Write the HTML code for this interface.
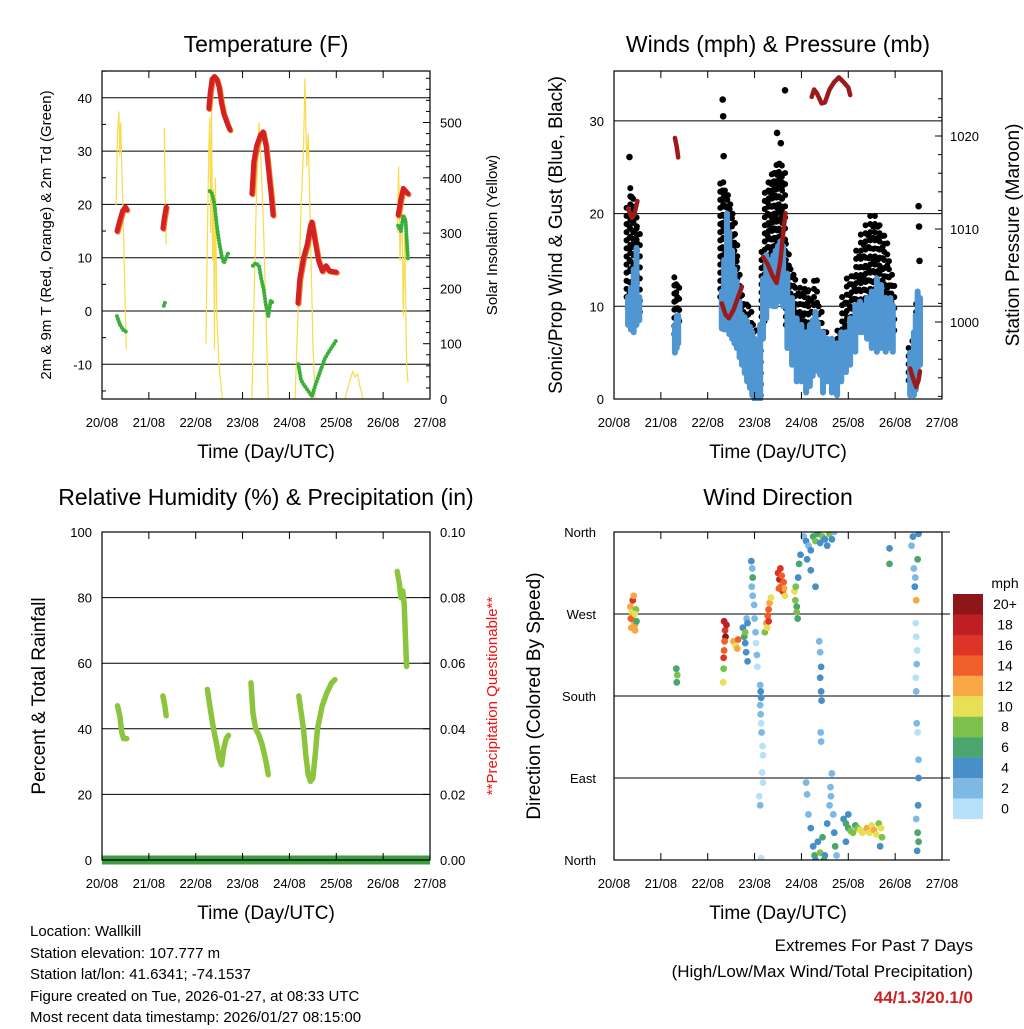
<!DOCTYPE html>
<html><head><meta charset="utf-8"><style>
html,body{margin:0;padding:0;background:#fff}
svg{display:block;font-family:"Liberation Sans",Arial,sans-serif}
</style></head><body>
<svg id="s" width="1024" height="1024" viewBox="0 0 1024 1024">
<rect width="1024" height="1024" fill="#fff"/>
<g id="g"></g>
</svg>
<script>
// ---------- Temperature panel data ----------
const tRedT=[[0.32,0.38,0.44,0.5,0.53],[1.30,1.33,1.37],[2.28,2.31,2.35,2.4,2.45,2.5,2.55,2.6,2.68,2.73],[3.2,3.24,3.3,3.38,3.44,3.5,3.56,3.62,3.65],[4.18,4.22,4.3,4.38,4.45,4.48,4.55,4.62,4.7,4.78,4.85,5.0],[6.32,6.38,6.43,6.48,6.53]];
const tRedV=[[15,17,18.8,19.5,19],[15.5,17.5,19.5],[38,41,43.5,44,43.5,42,39,37,35,34],[22,28,31,33,33.6,31,26,21,18],[1.5,6,10,12.5,16,16.7,13,9.5,7.5,8.5,7.5,7.3],[18,21,23,22.5,22]];
const tGrnT=[[0.32,0.38,0.45,0.53],[1.32,1.36],[2.3,2.35,2.4,2.45,2.5,2.55,2.6,2.65,2.7],[3.22,3.28,3.35,3.4,3.45,3.5,3.55,3.6,3.65],[4.19,4.25,4.32,4.4,4.48,4.55,4.65,4.75,4.85,5.0],[6.32,6.38,6.43,6.48,6.53]];
const tGrnV=[[-1,-2.5,-3.5,-4],[1,2],[22.5,22,20,16,13,10.5,9,10,11],[8.5,9,8.5,6,4,1,-1,2,1.5],[-10,-13,-14,-15,-16,-14,-11.5,-9,-7.5,-5.5],[16,15,18,17,9.5]];
const solT=[[0.3,0.33,0.36,0.38,0.4,0.43,0.46,0.5,0.52],[1.33,1.35,1.37],[2.22,2.25,2.28,2.3,2.32,2.34,2.36,2.38,2.4,2.42,2.45,2.5,2.57],[3.2,3.25,3.3,3.35,3.4,3.45,3.5,3.55],[4.12,4.2,4.25,4.3,4.33,4.37,4.4,4.45,4.5,4.55],[5.18,5.28,5.35,5.4,5.45,5.5,5.57],[6.3,6.33,6.36,6.4,6.43,6.46,6.5,6.53]];
const solV=[[350,480,520,440,500,400,300,150,90],[490,350,280],[100,300,450,510,300,520,250,380,90,400,150,60,0],[0,200,380,500,420,300,150,0],[0,200,350,450,580,420,480,300,100,0],[0,30,50,40,45,25,0],[300,420,250,350,150,300,60,30]];
const tempTicks=[-10,0,10,20,30,40];
const solTicks=[0,100,200,300,400,500];
const dayLabels=["20/08","21/08","22/08","23/08","24/08","25/08","26/08","27/08"];
// ---------- Winds panel data ----------
const blueT=[0.30,0.36,0.42,0.48,0.54,1.30,1.34,1.37,2.30,2.35,2.41,2.46,2.52,2.57,2.62,2.68,2.73,2.79,2.84,2.90,2.95,3.00,3.05,3.12,3.18,3.25,3.33,3.40,3.45,3.50,3.55,3.61,3.70,3.80,3.90,4.00,4.10,4.18,4.24,4.30,4.35,4.40,4.46,4.55,4.65,4.76,4.85,4.95,5.04,5.15,5.25,5.31,5.40,5.50,5.61,5.70,5.80,5.90,5.95,6.32,6.40,6.44,6.48,6.53];
const blueLo=[8,7.5,7.2,8,8.5,5,5.5,6,7.6,7.5,7.5,7,6.5,6,5.5,4.5,3.7,2.8,1.9,1.2,0.4,0,0,0,6.5,8.7,10.1,10,10,10.5,10.9,10,5.5,3.7,1.9,1.9,0.7,1.4,2.5,3.7,3,2.6,0.7,1.9,0.7,0.4,1.9,2.9,3.7,5.1,7.2,7.2,6.5,5.5,5.1,5.5,5.1,5.5,5.1,0.4,0.4,1,1.9,3.7];
const blueHi=[11,12,14,16.3,11,8,9,9,11.6,15,20,18,16,14,12.7,10.5,9.1,8.8,8.4,7.8,7.2,6.5,5.5,8,13,15.5,15,15.5,16,16.5,17,16.5,13.5,10.9,8.7,8,7.2,8,8.5,9.4,8.2,7.2,7.2,6.5,6.5,6,7.2,7.2,8.7,10.1,10.5,10.1,10.9,11.6,13,12.3,10.9,10.9,10.1,5,7.2,9,11.6,10.9];
const gustT=[0.30,0.38,0.45,0.52,1.32,1.36,2.30,2.35,2.40,2.45,2.50,2.55,2.60,2.65,2.70,2.80,2.90,3.00,3.10,3.18,3.25,3.33,3.40,3.45,3.50,3.55,3.62,3.70,3.80,3.90,4.00,4.10,4.18,4.30,4.40,4.50,4.60,4.70,4.80,4.90,5.00,5.10,5.20,5.30,5.40,5.50,5.60,5.70,5.80,5.90,5.95,6.32,6.40,6.48];
const gustLo=[11,14,12,9,7,8,11,12,12,11,10,9,9,7,6,5,3,1,0,8,10,12,12,13,13,14,12,8,7,5,5,4,3,4,3,2,2,2,3,4,6,8,9,9,10,11,11,10,8,7,7,2,1,5];
const gustHi=[21,23,21,19,13.5,13,24,23,23,22,21,20,18,15,12,11,10,8,6,16,23,24,25,25,26,26,25,17,14,13,12,13,12,13.5,10,8,6.5,6,8,11,13,14,16,18,19,20,20,19,18,15,13,6,7,11];
const gustOutT=[0.33,0.37,2.32,2.33,2.34,3.48,3.56,3.65,6.50,6.51,6.52];
const gustOutV=[26.1,21.8,32.3,30.5,26.2,28.7,27.6,33.3,20.8,18.6,14.9];
const presT=[[0.30,0.38,0.43,0.50],[1.30,1.34,1.37],[2.30,2.38,2.45,2.55,2.65,2.73],[3.18,3.28,3.38,3.47,3.55,3.62,3.66],[4.22,4.27,4.33,4.43,4.5,4.6,4.7,4.8,4.9,5.0,5.04],[6.32,6.38,6.45,6.50,6.53]];
const presV=[[1012.2,1011.2,1011.5,1013],[1019.8,1018.8,1017.7],[1002,1000.8,1000.4,1001.3,1002.7,1003.8],[1007,1006.2,1005,1004.2,1006.5,1010,1011.7],[1024.2,1025,1024.6,1023.5,1023.6,1025,1025.8,1026.3,1025.8,1025.2,1024.4],[995,994,993,993.8,994.7]];
const windTicks=[0,10,20,30];
const presTicks=[1000,1010,1020];
// ---------- RH panel data ----------
const rhT=[[0.33,0.38,0.42,0.46,0.53],[1.30,1.34,1.37],[2.25,2.3,2.38,2.45,2.5,2.55,2.6,2.65,2.7],[3.18,3.22,3.28,3.35,3.42,3.5,3.55],[4.2,4.25,4.3,4.35,4.4,4.45,4.5,4.55,4.6,4.7,4.8,4.9,4.97],[6.3,6.35,6.38,6.42,6.45,6.47,6.5]];
const rhV=[[47,44,39,37,37],[50,47,44],[52,47,40,35,31,29,34,37,38],[54,45,40,38,35,30,26],[50,45,40,32,26,24,25,32,40,47,51,54,55],[88,84,80,82,78,70,59]];
const precipT=[0,7];
const precipV=[0,0];
const rhTicks=[0,20,40,60,80,100];
const prTicks=["0.00","0.02","0.04","0.06","0.08","0.10"];
// ---------- Wind direction data ----------
const dirT=[0.35,0.38,0.40,0.42,0.45,0.47,0.4,0.42,0.36,0.44,0.48,0.37,0.45,1.33,1.35,1.34,
2.35,2.37,2.38,2.40,2.36,2.35,2.34,2.34,2.33,2.55,2.6,2.63,2.65,2.75,2.78,2.8,2.82,2.85,2.83,2.85,2.8,
2.93,2.95,2.96,2.94,2.96,2.99,3.0,3.02,3.03,3.05,3.06,3.12,3.13,3.14,3.12,3.13,3.14,3.15,3.17,3.18,3.16,3.18,3.1,3.12,3.14,
3.22,3.25,3.28,3.3,3.32,3.35,3.27,3.3,3.5,3.53,3.56,3.6,3.62,3.65,3.55,3.58,3.63,3.52,
3.85,3.87,3.9,3.92,3.88,3.93,3.95,3.9,3.98,
4.05,4.1,4.15,4.2,4.25,4.3,4.35,4.4,4.45,4.5,4.55,4.6,4.65,4.12,4.2,4.3,4.7,
4.38,4.4,4.42,4.4,4.42,4.43,4.41,4.42,
4.1,4.12,4.15,4.2,4.25,4.28,4.35,4.4,4.45,4.5,4.55,4.6,4.62,4.65,4.63,4.68,4.7,4.72,4.75,4.3,4.48,
4.9,4.95,5.0,5.05,5.1,5.15,5.2,5.25,5.3,5.35,5.4,5.45,5.5,5.55,5.6,5.65,5.7,5.72,5.68,5.0,4.95,
5.88,5.88,
6.35,6.38,6.4,6.42,6.45,6.48,6.5,6.43,6.44,6.45,6.47,6.46,6.44,6.45,6.46,6.48,6.5,6.5,6.49,6.45,6.48,6.5,6.47];
const dirDeg=[278,272,268,262,258,275,285,290,265,270,262,255,252,210,203,195,
262,252,245,258,240,230,222,210,195,240,235,232,242,255,245,238,228,218,265,260,250,
328,320,310,300,290,280,265,250,238,225,212,192,185,178,170,160,150,140,125,115,96,85,70,60,2,
250,260,268,275,282,288,255,262,315,308,300,295,305,290,320,312,298,298,
295,285,278,265,300,310,325,272,335,
355,350,345,340,355,350,358,348,355,352,345,358,352,330,318,300,360,
240,228,212,200,185,175,140,130,
85,72,50,35,15,5,20,8,25,5,40,60,80,95,70,50,30,15,5,0,0,
45,40,35,32,30,38,35,33,30,32,35,30,38,33,28,40,35,25,15,50,20,
342,325,
345,355,320,300,285,330,358,310,260,245,230,215,200,185,150,140,110,90,60,45,30,20,10];
const dirSpd=[12,10,13,12,12,9,16,13,14,11,7,12,12,6,8,6,
18,16,20,18,14,14,16,8,10,12,10,12,14,4,6,4,4,4,2,4,8,
4,2,6,2,2,2,2,2,0,2,0,2,4,4,2,2,0,2,0,0,0,0,0,2,0,
8,12,14,14,12,10,10,16,16,18,14,16,14,10,16,14,12,14,
10,8,6,6,8,4,6,8,4,
2,4,2,4,6,8,6,4,8,4,4,8,4,4,4,4,2,
2,2,4,4,4,4,2,2,
2,2,2,4,4,6,4,8,6,4,4,2,2,2,2,2,4,6,2,4,6,
4,6,6,8,8,6,8,10,10,10,12,10,10,12,10,8,10,8,4,4,4,
4,6,
2,4,2,4,12,6,4,2,0,0,0,2,0,2,2,0,2,4,4,2,6,6,4];
const cbLabels=["20+","18","16","14","12","10","8","6","4","2","0"];
const cbColors=["#8e1518","#be1e24","#dd3427","#f05f2a","#f7a843","#e7df55","#7cc14b","#4aa56f","#478fc8","#7db9e4","#b6e1f8"];
const dirTicks=[[0,"North"],[90,"East"],[180,"South"],[270,"West"],[360,"North"]];

const NS="http://www.w3.org/2000/svg";
const G=document.getElementById('g');
function mk(tag,attrs,parent){const e=document.createElementNS(NS,tag);for(const k in attrs)e.setAttribute(k,attrs[k]);(parent||G).appendChild(e);return e;}
function txt(x,y,s,size,anchor,parent,extra){const e=mk('text',Object.assign({x:x,y:y,'font-size':size,'text-anchor':anchor||'middle',fill:'#000'},extra||{}),parent);e.textContent=s;return e;}
function grp(name){const e=mk('g',{});return e;}

function xAxis(g,x0,x1,y0,y1){
  const xs=t=>x0+t*(x1-x0)/7;
  for(let i=0;i<8;i++){
    const x=xs(i);
    mk('line',{x1:x,y1:y1,x2:x,y2:y1-7,stroke:'#000','stroke-width':1},g);
    mk('line',{x1:x,y1:y0,x2:x,y2:y0+7,stroke:'#000','stroke-width':1},g);
    const l=txt(x,y1+28,dayLabels[i],13,'middle',g);
    
    
  }
}
function box(g,x0,y0,x1,y1){
  const r=mk('rect',{x:x0,y:y0,width:x1-x0,height:y1-y0,fill:'none',stroke:'#000','stroke-width':1.2},g);
  
  
}
function poly(g,pts,attrs){return mk('polyline',Object.assign({points:pts.map(p=>p[0].toFixed(1)+','+p[1].toFixed(1)).join(' '),fill:'none'},attrs),g);}

// ===== Panel 1: Temperature =====
(function(){
  const x0=102,x1=430,y0=71,y1=399;
  const xs=t=>x0+t*(x1-x0)/7;
  const yT=v=>311-v*5.33;
  const yS=s=>399-s*0.553;
  const g=grp('temperature-panel');
  const t=txt(266,52,'Temperature (F)',23,'middle',g);
  tempTicks.forEach(v=>{const y=yT(v);mk('line',{x1:x0,y1:y,x2:x1,y2:y,stroke:'#000','stroke-width':1},g);
    const l=txt(92,y+5,String(v),13,'end',g);});
  solTicks.forEach(v=>{const y=yS(v);mk('line',{x1:x1,y1:y,x2:x1-7,y2:y,stroke:'#000'},g);
    const l=txt(440,y+5,String(v),13,'start',g);});
  for(let v=20;v<600;v+=20){if(v%100){const y=yS(v);if(y>y0)mk('line',{x1:x1,y1:y,x2:x1-4,y2:y,stroke:'#000'},g);}}
  for(let v=-15;v<=45;v+=10){const y=yT(v);if(y>y0&&y<y1)mk('line',{x1:x0,y1:y,x2:x0+4,y2:y,stroke:'#000'},g);}
  const clip=mk('clipPath',{id:'c1'},g);mk('rect',{x:x0,y:y0,width:x1-x0,height:y1-y0},clip);
  const d=mk('g',{'clip-path':'url(#c1)'},g);
  solT.forEach((ts,i)=>{const p=poly(d,ts.map((tt,j)=>[xs(tt),yS(solV[i][j])]),{stroke:'#f8dc4a','stroke-width':1.2});
    });
  tGrnT.forEach((ts,i)=>{const p=poly(d,ts.map((tt,j)=>[xs(tt),yT(tGrnV[i][j])]),{stroke:'#3cae3c','stroke-width':4,'stroke-linecap':'round','stroke-dasharray':'0 3'});
    });
  tRedT.forEach((ts,i)=>{const pts=ts.map((tt,j)=>[xs(tt),yT(tRedV[i][j])]);
    const o=poly(d,pts.map(p=>[p[0]+1,p[1]+1]),{stroke:'#f07a22','stroke-width':5,'stroke-linecap':'round','stroke-linejoin':'round'});
    
    const p=poly(d,pts,{stroke:'#d42222','stroke-width':5,'stroke-linecap':'round','stroke-linejoin':'round'});
    });
  xAxis(g,x0,x1,y0,y1);box(g,x0,y0,x1,y1);
  const xl=txt(266,458,'Time (Day/UTC)',19,'middle',g);
  const yl=txt(0,0,'2m & 9m T (Red, Orange) & 2m Td (Green)',15,'middle',g,{transform:'translate(51,235) rotate(-90)'});
  const yr=txt(0,0,'Solar Insolation (Yellow)',15,'middle',g,{transform:'translate(497,235) rotate(-90)'});
})();

// ===== Panel 2: Winds =====
(function(){
  const x0=614,x1=942,y0=71,y1=399;
  const xs=t=>x0+t*(x1-x0)/7;
  const yW=v=>399-v*9.27;
  const yP=p=>322-(p-1000)*9.3;
  const g=grp('winds-panel');
  const t=txt(778,52,'Winds (mph) & Pressure (mb)',23,'middle',g);
  windTicks.forEach(v=>{const y=yW(v);if(v>0)mk('line',{x1:x0,y1:y,x2:x1,y2:y,stroke:'#000'},g);
    const l=txt(604,y+5,String(v),13,'end',g);});
  presTicks.forEach(v=>{const y=yP(v);mk('line',{x1:x1,y1:y,x2:x1-7,y2:y,stroke:'#000'},g);
    const l=txt(950,y+5,String(v),13,'start',g);});
  for(let v=992;v<1026;v+=2){if(v%10){const y=yP(v);mk('line',{x1:x1,y1:y,x2:x1-4,y2:y,stroke:'#000'},g);}}
  const clip=mk('clipPath',{id:'c2'},g);mk('rect',{x:x0,y:y0-2,width:x1-x0,height:y1-y0+4},clip);
  const d=mk('g',{'clip-path':'url(#c2)'},g);
  gustT.forEach((tt,i)=>{
    const l=mk('line',{x1:xs(tt)-1.5,y1:yW(gustLo[i]),x2:xs(tt)-1.5,y2:yW(gustHi[i]),stroke:'#000','stroke-width':6,'stroke-linecap':'round','stroke-dasharray':'0.1 8'},d);
    
    const l2=mk('line',{x1:xs(tt)+1.5,y1:yW(gustLo[i]+0.4),x2:xs(tt)+1.5,y2:yW(gustHi[i]-0.6),stroke:'#000','stroke-width':6,'stroke-linecap':'round','stroke-dasharray':'0.1 11'},d);
    });
  gustOutT.forEach((tt,i)=>{const c=mk('circle',{cx:xs(tt),cy:yW(gustOutV[i]),r:3.3,fill:'#000'},d);
    });
  blueT.forEach((tt,i)=>{const l=mk('line',{x1:xs(tt),y1:yW(blueLo[i]),x2:xs(tt),y2:yW(blueHi[i]),stroke:'#4f96d2','stroke-width':6,'stroke-linecap':'round'},d);
    });
  presT.forEach((ts,i)=>{const p=poly(d,ts.map((tt,j)=>[xs(tt),yP(presV[i][j])]),{stroke:'#9b1b1b','stroke-width':4.5,'stroke-linecap':'round','stroke-linejoin':'round'});
    });
  xAxis(g,x0,x1,y0,y1);box(g,x0,y0,x1,y1);
  const xl=txt(778,458,'Time (Day/UTC)',19,'middle',g);
  const yl=txt(0,0,'Sonic/Prop Wind & Gust (Blue, Black)',19,'middle',g,{transform:'translate(562,235) rotate(-90)'});
  const yr=txt(0,0,'Station Pressure (Maroon)',19,'middle',g,{transform:'translate(1019,235) rotate(-90)'});
})();

// ===== Panel 3: RH =====
(function(){
  const x0=102,x1=430,y0=532,y1=860;
  const xs=t=>x0+t*(x1-x0)/7;
  const yR=v=>860-v*3.28;
  const yPr=v=>860-v*3280;
  const g=grp('humidity-panel');
  const t=txt(266,505,'Relative Humidity (%) & Precipitation (in)',23,'middle',g);
  rhTicks.forEach((v,i)=>{const y=yR(v);if(v>0&&v<100)mk('line',{x1:x0,y1:y,x2:x1,y2:y,stroke:'#000'},g);
    const l=txt(92,y+5,String(v),13,'end',g);
    const r=txt(440,y+5,prTicks[i],13,'start',g);
    mk('line',{x1:x1,y1:y,x2:x1-7,y2:y,stroke:'#000'},g);});
  const clip=mk('clipPath',{id:'c3'},g);mk('rect',{x:x0,y:y0,width:x1-x0,height:y1-y0+6},clip);
  const d=mk('g',{'clip-path':'url(#c3)'},g);
  rhT.forEach((ts,i)=>{const p=poly(d,ts.map((tt,j)=>[xs(tt),yR(rhV[i][j])]),{stroke:'#8cc43e','stroke-width':5.5,'stroke-linecap':'round','stroke-linejoin':'round'});
    });
  const pp=poly(d,precipT.map((tt,j)=>[xs(tt),yPr(precipV[j])]),{stroke:'#3d9b40','stroke-width':9});
  
  xAxis(g,x0,x1,y0,y1);box(g,x0,y0,x1,y1);
  const xl=txt(266,919,'Time (Day/UTC)',19,'middle',g);
  const yl=txt(0,0,'Percent & Total Rainfall',19,'middle',g,{transform:'translate(45,696) rotate(-90)'});
  const yr=txt(0,0,'**Precipitation Questionable**',15,'middle',g,{transform:'translate(497,696) rotate(-90)',fill:'#ee1111'});
})();

// ===== Panel 4: Wind direction =====
(function(){
  const x0=614,x1=942,y0=532,y1=860;
  const xs=t=>x0+t*(x1-x0)/7;
  const yD=v=>860-v*328/360;
  const g=grp('wind-direction-panel');
  const t=txt(778,505,'Wind Direction',23,'middle',g);
  dirTicks.forEach(dt=>{const y=yD(dt[0]);mk('line',{x1:x0,y1:y,x2:950,y2:y,stroke:'#000'},g);
    const l=txt(596,y+5,dt[1],13,'end',g);});
  const clip=mk('clipPath',{id:'c4'},g);mk('rect',{x:x0,y:y0,width:x1-x0,height:y1-y0},clip);
  const d=mk('g',{'clip-path':'url(#c4)'},g);
  dirT.forEach((tt,i)=>{const idx=Math.max(0,10-Math.min(10,Math.floor(dirSpd[i]/2)));
    const c=mk('circle',{cx:xs(tt),cy:yD(dirDeg[i]),r:3.4,fill:cbColors[idx]},d);
    });
  xAxis(g,x0,x1,y0,y1);box(g,x0,y0,x1,y1);
  const xl=txt(778,919,'Time (Day/UTC)',19,'middle',g);
  const yl=txt(0,0,'Direction (Colored By Speed)',19,'middle',g,{transform:'translate(540,696) rotate(-90)'});
  const cb=grp('speed-colorbar');
  const m=txt(1005,588,'mph',14,'middle',cb);
  cbColors.forEach((c,i)=>{const r=mk('rect',{x:953,y:594+i*20.45,width:30,height:20.6,fill:c},cb);
    
    const l=txt(1005,609+i*20.45,cbLabels[i],14,'middle',cb);});
})();
</script>
<div style="position:absolute;left:0;top:0;width:1024px;height:1024px;pointer-events:none;font-family:'Liberation Sans',Arial,sans-serif">
  <div style="position:absolute;left:30px;top:921px;font-size:15px;line-height:21.6px;color:#000">
    <div>Location: Wallkill</div>
    <div>Station elevation: 107.777 m</div>
    <div>Station lat/lon: 41.6341; -74.1537</div>
    <div>Figure created on Tue, 2026-01-27, at 08:33 UTC</div>
    <div>Most recent data timestamp: 2026/01/27 08:15:00</div>
  </div>
  <div style="position:absolute;right:51px;top:933px;font-size:17px;line-height:26px;text-align:right;color:#000">
    <div>Extremes For Past 7 Days</div>
    <div>(High/Low/Max Wind/Total Precipitation)</div>
    <div style="color:#cc2222;font-weight:bold">44/1.3/20.1/0</div>
  </div>
</div>
</body></html>
